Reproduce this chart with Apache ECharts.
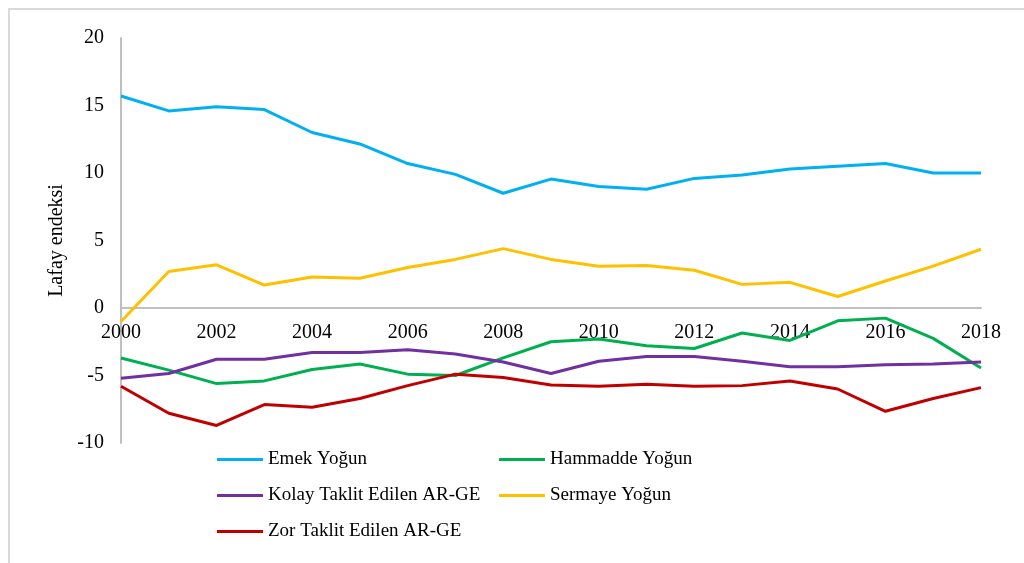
<!DOCTYPE html>
<html>
<head>
<meta charset="utf-8">
<script src="https://cdn.jsdelivr.net/npm/echarts@6/dist/echarts.min.js"></script>
<style>
  html, body { margin: 0; padding: 0; background: #fff; }
  #frame {
    position: absolute; left: 8px; top: 8px; width: 1030px; height: 570px;
    border-left: 2px solid #d9d9d9; border-top: 2px solid #d9d9d9;
  }
  #chart { position: absolute; left: 0; top: 0; width: 1024px; height: 563px; }
</style>
</head>
<body>
<div id="frame"></div>
<div id="chart"></div>
<script>
const years = ['2000','2001','2002','2003','2004','2005','2006','2007','2008','2009',
  '2010','2011','2012','2013','2014','2015','2016','2017','2018'];

const emekYogun = [15.7, 14.6, 14.9, 14.7, 13.0, 12.15, 10.7, 9.9, 8.5, 9.55,
  9.0, 8.8, 9.6, 9.85, 10.3, 10.5, 10.7, 10.0, 10.0];
const hammaddeYogun = [-3.7, -4.6, -5.6, -5.4, -4.55, -4.15, -4.9, -5.0, -3.7, -2.5,
  -2.3, -2.8, -3.0, -1.85, -2.4, -0.95, -0.75, -2.25, -4.45];
const kolayTaklit = [-5.2, -4.85, -3.8, -3.8, -3.3, -3.3, -3.1, -3.4, -4.0, -4.85,
  -3.95, -3.6, -3.6, -3.95, -4.35, -4.35, -4.2, -4.15, -4.0];
const sermayeYogun = [-1.0, 2.7, 3.2, 1.7, 2.3, 2.2, 3.0, 3.6, 4.4, 3.6,
  3.1, 3.15, 2.8, 1.75, 1.9, 0.85, 2.0, 3.1, 4.35];
const zorTaklit = [-5.8, -7.8, -8.7, -7.15, -7.35, -6.7, -5.75, -4.9, -5.15, -5.7,
  -5.8, -5.65, -5.8, -5.75, -5.4, -6.0, -7.65, -6.7, -5.9];

const yTicks = { min: -10, max: 20, interval: 5 };

const font = 'Liberation Serif';
const gridTop = 38, gridBottom = 120, chartH = 563;
// x axis sits on the zero line: shift it up from the grid bottom
const plotH = chartH - gridTop - gridBottom;
const zeroOffset = plotH * (0 - yTicks.min) / (yTicks.max - yTicks.min);

const myChart = echarts.init(document.getElementById('chart'));

const mkSeries = (name, data, color) => ({
  name, type: 'line', data,
  symbol: 'none',
  lineStyle: { color, width: 3 },
  itemStyle: { color },
});

const legendCommon = {
  orient: 'vertical',
  icon: 'rect',
  itemWidth: 46,
  itemHeight: 3,
  itemGap: 17,
  textStyle: { fontFamily: font, fontSize: 19, color: '#000' },
};

const option = {
  animation: false,
  grid: { left: 121, right: 43, top: gridTop, bottom: gridBottom },
  legend: [
    { ...legendCommon, left: 212, top: 445, data: ['Emek Yoğun', 'Kolay Taklit Edilen AR-GE', 'Zor Taklit Edilen AR-GE'] },
    { ...legendCommon, left: 494, top: 445, data: ['Hammadde Yoğun', 'Sermaye Yoğun'] },
  ],
  xAxis: {
    type: 'category',
    data: years,
    boundaryGap: false,
    offset: -zeroOffset,
    axisLine: { onZero: false, lineStyle: { color: '#bfbfbf', width: 2 } },
    axisTick: { show: false },
    axisLabel: { interval: 1, margin: 15, fontFamily: font, fontSize: 20, color: '#000' },
    splitLine: { show: false },
  },
  yAxis: {
    type: 'value',
    min: yTicks.min, max: yTicks.max, interval: yTicks.interval,
    name: 'Lafay endeksi',
    nameLocation: 'middle',
    nameGap: 49,
    nameTextStyle: { fontFamily: font, fontSize: 20, color: '#000' },
    axisLine: { show: true, lineStyle: { color: '#bfbfbf', width: 2 } },
    axisTick: { show: false },
    axisLabel: { margin: 17, fontFamily: font, fontSize: 20, color: '#000' },
    splitLine: { show: false },
  },
  series: [
    mkSeries('Emek Yoğun', emekYogun, '#00b0f0'),
    mkSeries('Hammadde Yoğun', hammaddeYogun, '#00b050'),
    mkSeries('Kolay Taklit Edilen AR-GE', kolayTaklit, '#7030a0'),
    mkSeries('Sermaye Yoğun', sermayeYogun, '#ffc000'),
    mkSeries('Zor Taklit Edilen AR-GE', zorTaklit, '#c00000'),
  ],
};
myChart.setOption(option);
</script>
</body>
</html>
